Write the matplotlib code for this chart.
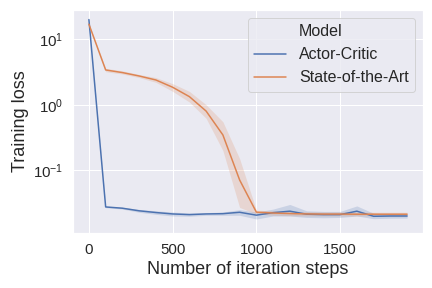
import numpy as np
import matplotlib
matplotlib.use("Agg")
import matplotlib.pyplot as plt
import seaborn as sns

steps = [0, 100, 200, 300, 400, 500, 600, 700, 800, 900,
         1000, 1100, 1200, 1300, 1400, 1500, 1600, 1700, 1800, 1900]

ac_mean = [20.0, 0.0275, 0.0263, 0.024, 0.0226, 0.0215, 0.021, 0.0215, 0.0217, 0.0228,
           0.0206, 0.0225, 0.0237, 0.0213, 0.021, 0.021, 0.0237, 0.0198, 0.020, 0.020]
ac_lo = [19.5, 0.0268, 0.0255, 0.0228, 0.0212, 0.0200, 0.0198, 0.0205, 0.0205, 0.0205,
         0.0180, 0.0200, 0.0200, 0.0190, 0.0188, 0.0190, 0.0200, 0.0182, 0.0185, 0.0186]
ac_hi = [20.5, 0.0282, 0.0272, 0.0252, 0.0240, 0.0230, 0.0222, 0.0225, 0.0230, 0.0250,
         0.0230, 0.0255, 0.0300, 0.0240, 0.0235, 0.0235, 0.0285, 0.0220, 0.0215, 0.0214]

sota_mean = [17.0, 3.4, 3.1, 2.75, 2.39, 1.85, 1.33, 0.80, 0.346, 0.071,
             0.0229, 0.0222, 0.0218, 0.0215, 0.0214, 0.0214, 0.0213, 0.0213, 0.0213, 0.0213]
sota_lo = [16.5, 3.2, 2.95, 2.6, 2.2, 1.6, 1.1, 0.62, 0.20, 0.027,
           0.0215, 0.0205, 0.0202, 0.0200, 0.0200, 0.0200, 0.0200, 0.0200, 0.0200, 0.0200]
sota_hi = [17.5, 3.6, 3.3, 2.9, 2.6, 2.1, 1.6, 1.0, 0.55, 0.15,
           0.0245, 0.0240, 0.0235, 0.0232, 0.0230, 0.0230, 0.0230, 0.0228, 0.0228, 0.0228]

sns.set_theme(style="darkgrid")
plt.rcParams['font.family'] = ['Liberation Sans', 'DejaVu Sans']
plt.rcParams['xtick.labelsize'] = 15
plt.rcParams['ytick.labelsize'] = 15
plt.rcParams['axes.labelsize'] = 18
plt.rcParams['legend.fontsize'] = 16
pal = sns.color_palette("deep")

fig = plt.figure(figsize=(6, 4), dpi=72)
ax = fig.add_axes([73/432, 1-233/288, 350/432, 223/288])

ax.plot([], [], color="none", label="Model")
ax.plot(steps, ac_mean, color=pal[0], lw=1.5, label="Actor-Critic")
ax.fill_between(steps, ac_lo, ac_hi, color=pal[0], alpha=0.2, lw=0)
ax.plot(steps, sota_mean, color=pal[1], lw=1.5, label="State-of-the-Art")
ax.fill_between(steps, sota_lo, sota_hi, color=pal[1], alpha=0.2, lw=0)

ax.set_yscale("log")
ax.set_ylim(0.011, 28)
ax.set_xticks([0, 500, 1000, 1500])
ax.set_xlabel("Number of iteration steps")
ax.set_ylabel("Training loss")
ax.legend(loc="upper right")

fig.savefig("out.png", dpi=72)
